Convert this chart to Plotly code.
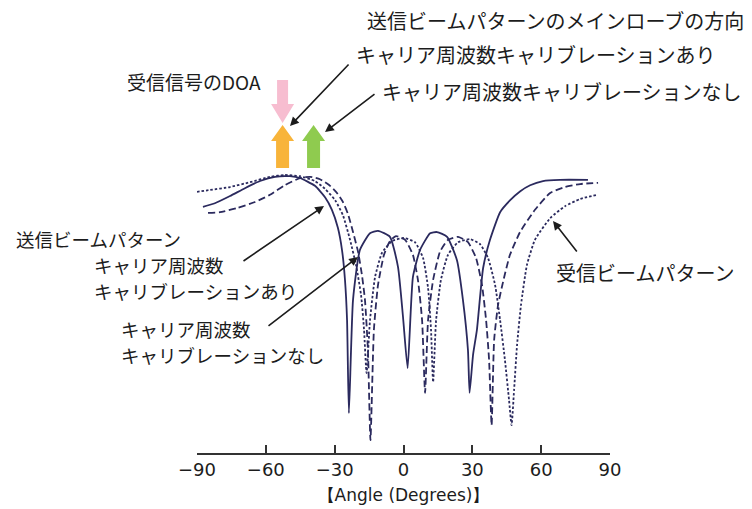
import plotly.graph_objects as go

# Beam patterns: angle (degrees) vs relative level (dB)
tx_cal_angle = [-87.4, -82.2, -75.6, -69.1, -62.5, -56.0, -49.5, -45.1, -38.6, -34.2, -31.2, -28.6,
                -26.8, -25.5, -24.6, -23.8, -22.0, -19.0, -14.6, -11.1, -5.9, -2.4, -0.2, 1.8, 4.1,
                7.2, 11.6, 14.6, 19.0, 23.3, 25.9, 28.1, 28.8, 30.3, 32.0, 34.7, 37.7, 42.1, 46.5,
                50.9, 55.2, 60.8, 68.2, 80.4]
tx_cal_level = [-5.3, -4.7, -3.5, -2.2, -1.0, -0.3, -0.2, -0.5, -1.8, -3.7, -5.8, -8.8, -12.5, -17.5,
                -24.2, -39.7, -20.8, -12.5, -9.7, -9.3, -10.3, -15.3, -23.7, -32.2, -17.0, -12.5,
                -9.7, -9.5, -10.3, -14.2, -20.8, -29.2, -36.3, -30.0, -25.8, -15.5, -10.8, -6.2,
                -4.2, -2.7, -1.7, -1.0, -0.8, -0.8]

tx_nocal_angle = [-85.2, -80.0, -72.6, -64.7, -58.2, -51.7, -45.1, -40.7, -36.4, -32.0, -29.0, -26.4,
                  -24.2, -22.0, -19.8, -18.1, -16.8, -15.5, -14.4, -12.9, -11.1, -8.5, -5.9, -3.3,
                  0.7, 4.1, 6.3, 8.1, 9.4, 10.7, 12.9, 15.9, 19.4, 23.8, 28.1, 31.6, 34.2, 36.0,
                  37.3, 38.4, 39.5, 41.2, 43.4, 46.4, 50.8, 57.3, 63.9, 70.4, 77.0, 84.8]
tx_nocal_level = [-6.3, -6.2, -5.5, -4.5, -3.3, -1.7, -0.5, -0.3, -0.7, -1.8, -3.0, -4.5, -6.5, -9.5,
                  -12.8, -16.7, -20.8, -29.2, -44.2, -25.8, -18.3, -13.3, -11.0, -10.2, -10.8,
                  -13.3, -17.5, -24.2, -36.3, -24.2, -17.5, -12.8, -10.8, -10.3, -11.2, -13.8,
                  -18.3, -24.2, -30.8, -41.7, -27.5, -21.7, -17.8, -13.3, -9.5, -5.8, -3.0, -2.0,
                  -1.5, -1.3]

rx_angle = [-90.0, -84.4, -75.6, -66.9, -58.2, -51.7, -45.1, -38.6, -34.2, -29.8, -26.4, -23.3,
            -20.7, -18.5, -17.2, -16.1, -14.6, -12.4, -9.4, -5.0, 0.2, 5.0, 8.5, 10.7, 12.0, 12.9,
            14.2, 16.3, 19.4, 23.8, 29.0, 33.3, 36.8, 39.9, 42.1, 44.2, 46.0, 47.1, 48.2, 49.5,
            51.2, 53.8, 57.3, 63.9, 70.4, 77.0, 84.4]
rx_level = [-2.8, -2.5, -2.0, -1.2, -0.3, 0.0, -0.2, -1.0, -2.3, -4.2, -6.7, -10.8, -15.0, -20.0,
            -25.8, -33.0, -24.2, -17.0, -13.0, -11.0, -10.5, -11.2, -13.8, -18.8, -25.8, -34.5,
            -24.2, -17.5, -13.3, -11.2, -10.7, -11.5, -13.8, -18.3, -24.2, -30.8, -37.5, -41.7,
            -35.8, -28.3, -21.7, -15.0, -10.8, -7.2, -5.2, -4.0, -3.3]

tick_vals = [-90, -60, -30, 0, 30, 60, 90]
x_title = "【Angle (Degrees)】"

# Directions marked by the block arrows (degrees)
doa_angle = -52.7
main_lobe_cal = -52.7
main_lobe_nocal = -39.2

W, H = 752, 509
L, R, T, B = 197, 142, 0, 56
PW, PH = W - L - R, H - T - B

INK = "#1c1c1c"
NAVY = "#2b2a5e"
JP = "Noto Sans CJK JP"


def pp(px, py):
    """pixel position on the page -> paper coordinates"""
    return (px - L) / PW, (H - B - py) / PH


fig = go.Figure()
line_kw = dict(color=NAVY, width=1.8, shape="spline", smoothing=0.5)
fig.add_trace(go.Scatter(x=tx_cal_angle, y=tx_cal_level, mode="lines",
                         line=dict(**line_kw, dash="solid"), name="tx_cal"))
fig.add_trace(go.Scatter(x=tx_nocal_angle, y=tx_nocal_level, mode="lines",
                         line=dict(**line_kw, dash="7px,3.5px"), name="tx_nocal"))
fig.add_trace(go.Scatter(x=rx_angle, y=rx_level, mode="lines",
                         line=dict(**line_kw, dash="2.5px,2px"), name="rx"))

# block arrows (pixel geometry anchored at their angle, top of the plot)
def block_arrow(angle, color, down):
    if down:
        path = "M -5.5,-80 L 5.5,-80 L 5.5,-104 L 11.5,-104 L 0,-123 L -11.5,-104 L -5.5,-104 Z"
    else:
        path = "M -6.5,-168 L 6.5,-168 L 6.5,-141 L 11.5,-141 L 0,-125 L -11.5,-141 L -6.5,-141 Z"
    fig.add_shape(type="path", path=path, xref="x", yref="paper",
                  xsizemode="pixel", ysizemode="pixel", xanchor=angle, yanchor=1,
                  fillcolor=color, line=dict(width=0), layer="above")

block_arrow(doa_angle, "#f7bdd0", True)
block_arrow(main_lobe_cal, "#f8b43a", False)
block_arrow(main_lobe_nocal, "#8fcb4f", False)

# text labels: (text, left x px, center y px, size)
labels = [
    ("送信ビームパターンのメインローブの方向", 366, 20, 20),
    ("キャリア周波数キャリブレーションあり", 355, 54, 20),
    ("キャリア周波数キャリブレーションなし", 381, 91, 20),
    ("受信信号のDOA", 126, 81, 19),
    ("送信ビームパターン", 15, 239, 18.5),
    ("キャリア周波数", 93, 265, 18.5),
    ("キャリブレーションあり", 93, 291, 18.5),
    ("キャリア周波数", 120, 329, 18.5),
    ("キャリブレーションなし", 120, 355, 18.5),
    ("受信ビームパターン", 555, 272, 20),
]
for txt, lx, cy, fs in labels:
    ax_, ay_ = pp(lx, cy)
    fig.add_annotation(text=txt, x=ax_, y=ay_, xref="paper", yref="paper",
                       xanchor="left", yanchor="middle", showarrow=False,
                       borderpad=0, font=dict(family=JP, size=fs, color=INK))

# pointer arrows: (tip x, tip y, tail x, tail y) in page pixels
pointers = [
    (290, 126, 350, 63),
    (325, 132, 376, 93),
    (324, 206, 242, 262),
    (358, 257, 267, 327),
    (553, 221, 578, 253),
]
for tx, ty, sx, sy in pointers:
    px_, py_ = pp(tx, ty)
    fig.add_annotation(text="", x=px_, y=py_, xref="paper", yref="paper",
                       ax=sx - tx, ay=sy - ty, showarrow=True,
                       arrowhead=2, arrowsize=1.1, arrowwidth=1.6, arrowcolor=INK)

fig.update_xaxes(range=[-90, 90], tickvals=tick_vals, showgrid=False, zeroline=False,
                 showline=True, linecolor="#333333", linewidth=1.5,
                 ticks="inside", ticklen=8, tickwidth=1.5, tickcolor="#333333",
                 tickfont=dict(family="DejaVu Sans", size=18, color=INK),
                 title=dict(text=x_title, font=dict(family="DejaVu Sans", size=17, color=INK),
                            standoff=10))
fig.update_yaxes(range=[-46.33, 29.17], visible=False)

fig.update_layout(width=W, height=H, margin=dict(l=L, r=R, t=T, b=B),
                  paper_bgcolor="white", plot_bgcolor="white", showlegend=False)

fig.write_html("out.html")
